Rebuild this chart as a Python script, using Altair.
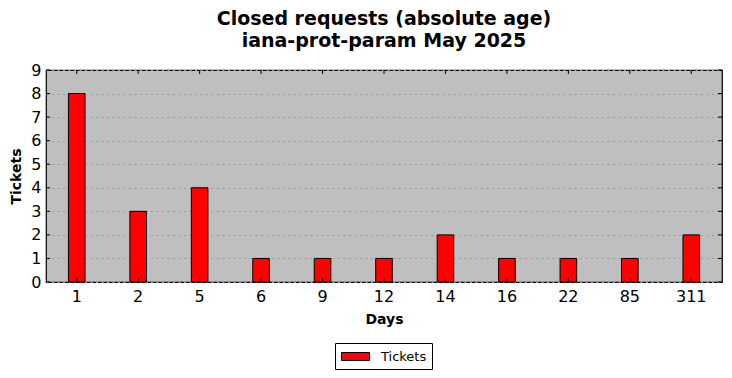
import altair as alt
import pandas as pd

days = ["1", "2", "5", "6", "9", "12", "14", "16", "22", "85", "311"]
tickets = [8, 3, 4, 1, 1, 1, 2, 1, 1, 1, 2]
yticks = list(range(0, 10))

df = pd.DataFrame({"Days": days, "Tickets": tickets, "series": ["Tickets"] * len(days)})
ydf = pd.DataFrame({"Tickets": yticks})

FONT = "DejaVu Sans"
W, H = 676, 212

xscale = alt.Scale(paddingInner=0, paddingOuter=0)
xaxis = alt.Axis(title="Days", labelAngle=0, ticks=False, domain=False,
                 labelFontSize=16, labelPadding=6, labelColor="black",
                 titleFontSize=14, titleFontWeight="bold", titlePadding=8,
                 titleColor="black", labelFont=FONT, titleFont=FONT)
yscale = alt.Scale(domain=[0, 9], nice=False, zero=True)
yaxis = alt.Axis(title="Tickets", values=yticks, tickCount=10, ticks=False, domain=False,
                 labelFontSize=16, labelPadding=5, labelColor="black",
                 labelFlush=False, labelOverlap=False,
                 titleFontSize=14, titleFontWeight="bold", titlePadding=7,
                 titleColor="black", labelFont=FONT, titleFont=FONT,
                 grid=True, gridColor="#999999", gridDash=[2, 3.5], gridWidth=1)


def X():
    return alt.X("Days:N", sort=days, scale=xscale, axis=xaxis, title="Days")


def Y():
    return alt.Y("Tickets:Q", scale=yscale, axis=yaxis, title="Tickets")


bars = alt.Chart(df).mark_bar(stroke="black", strokeWidth=1,
                              width=alt.RelativeBandSize(0.27)).encode(
    x=X(),
    y=Y(),
    color=alt.Color("series:N", scale=alt.Scale(domain=["Tickets"], range=["#ff0000"]),
                    legend=alt.Legend(title=None, orient="none", legendX=289, legendY=273,
                                      strokeColor="black", padding=5,
                                      symbolType="M-1.75,-0.5L1.75,-0.5L1.75,0.5L-1.75,0.5Z",
                                      symbolSize=256, symbolStrokeColor="black",
                                      symbolStrokeWidth=1, symbolOpacity=1,
                                      symbolOffset=7,
                                      labelFontSize=13, labelFont=FONT, labelColor="black",
                                      labelOffset=17, fillColor="white"))
)

# inside ticks (bottom & top) at category positions
bot_ticks = alt.Chart(df).mark_rule(color="black", strokeWidth=1).encode(
    x=X(), y=alt.YDatum(0, scale=yscale, axis=yaxis, title="Tickets"), y2=alt.Y2Datum(0.17))
top_ticks = alt.Chart(df).mark_rule(color="black", strokeWidth=1).encode(
    x=X(), y=alt.YDatum(9, scale=yscale, axis=yaxis, title="Tickets"), y2=alt.Y2Datum(8.83))
left_ticks = alt.Chart(ydf).mark_rule(color="black", strokeWidth=1).encode(
    y=Y(), x=alt.value(0), x2=alt.value(4))
right_ticks = alt.Chart(ydf).mark_rule(color="black", strokeWidth=1).encode(
    y=Y(), x=alt.value(W - 4), x2=alt.value(W))

chart = alt.layer(bars, bot_ticks, top_ticks, left_ticks, right_ticks).properties(
    width=W, height=H,
    autosize=alt.AutoSizeParams(type="none"),
    padding={"left": 46, "top": 70, "right": 10, "bottom": 96},
    title=alt.TitleParams(["Closed requests (absolute age)", "iana-prot-param May 2025"],
                          fontSize=19, fontWeight="bold", font=FONT, color="black",
                          lineHeight=22, offset=11, anchor="middle"),
).configure(background="white"
).configure_view(fill="#bfbfbf", stroke="black", strokeWidth=1.2)

chart.save("out.html", embed_options={"renderer": "svg", "actions": False})
